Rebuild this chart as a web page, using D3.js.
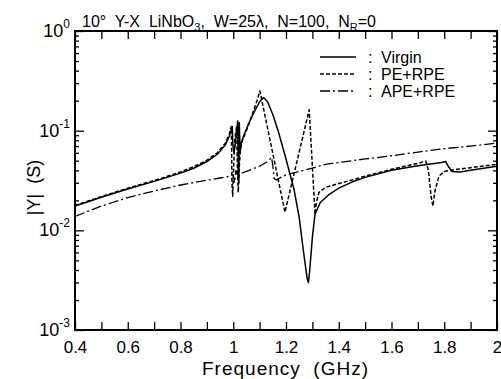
<!DOCTYPE html>
<html>
<head>
<meta charset="utf-8">
<script src="https://cdn.jsdelivr.net/npm/d3@7"></script>
<style>
  body { margin: 0; background: #fff; }
  svg { display: block; font-family: "Liberation Sans", Arial, sans-serif; }
  .line { fill: none; stroke: #000; stroke-linejoin: round; }
</style>
</head>
<body>
<svg id="chart" width="501" height="379"></svg>
<script>
'use strict';

// [frequency GHz, |Y| S]
var virgin = [
  [0.40, 0.0175], [0.50, 0.0215], [0.60, 0.026], [0.70, 0.031], [0.80, 0.0375],
  [0.85, 0.042], [0.90, 0.049], [0.94, 0.058], [0.97, 0.072], [0.985, 0.088],
  [0.992, 0.10], [0.996, 0.11], [0.999, 0.07], [1.003, 0.06], [1.008, 0.075],
  [1.013, 0.10], [1.017, 0.125], [1.019, 0.04], [1.021, 0.03], [1.023, 0.12],
  [1.026, 0.06], [1.030, 0.075], [1.04, 0.09], [1.06, 0.12], [1.08, 0.155],
  [1.10, 0.195], [1.115, 0.215], [1.13, 0.195], [1.15, 0.145], [1.17, 0.10],
  [1.20, 0.052], [1.23, 0.026], [1.25, 0.0135], [1.265, 0.0065], [1.28, 0.0033],
  [1.285, 0.003], [1.29, 0.004], [1.30, 0.0085], [1.31, 0.0145], [1.33, 0.019],
  [1.36, 0.0225], [1.40, 0.0265], [1.45, 0.0305], [1.50, 0.034], [1.60, 0.040],
  [1.70, 0.0445], [1.79, 0.048], [1.805, 0.049], [1.815, 0.044], [1.83, 0.039],
  [1.86, 0.0385], [1.90, 0.040], [1.95, 0.042], [2.00, 0.044]
];

var peRpe = [
  [0.40, 0.0178], [0.50, 0.0218], [0.60, 0.0265], [0.70, 0.0316], [0.80, 0.0385],
  [0.85, 0.0435], [0.90, 0.0505], [0.94, 0.060], [0.97, 0.075], [0.985, 0.092],
  [0.990, 0.105], [0.993, 0.11], [0.995, 0.03], [0.998, 0.022], [1.001, 0.04],
  [1.006, 0.08], [1.010, 0.10], [1.013, 0.11], [1.016, 0.04], [1.019, 0.024],
  [1.022, 0.04], [1.027, 0.065], [1.035, 0.08], [1.05, 0.10], [1.07, 0.14],
  [1.09, 0.20], [1.101, 0.25], [1.196, 0.0152], [1.288, 0.162], [1.31, 0.0145],
  [1.315, 0.019], [1.325, 0.024], [1.35, 0.027], [1.40, 0.0295], [1.45, 0.032],
  [1.50, 0.035], [1.60, 0.041], [1.70, 0.047], [1.73, 0.0495], [1.74, 0.04],
  [1.75, 0.022], [1.757, 0.0175], [1.765, 0.025], [1.78, 0.035], [1.80, 0.039],
  [1.85, 0.041], [1.90, 0.0425], [2.00, 0.046]
];

var apeRpe = [
  [0.40, 0.0138], [0.50, 0.0175], [0.60, 0.0213], [0.70, 0.0248], [0.80, 0.0285],
  [0.90, 0.0318], [0.95, 0.0335], [0.99, 0.035], [1.00, 0.036], [1.005, 0.03],
  [1.01, 0.04], [1.02, 0.034], [1.025, 0.037], [1.05, 0.039], [1.10, 0.044],
  [1.13, 0.049], [1.145, 0.054], [1.15, 0.045], [1.155, 0.033], [1.165, 0.032],
  [1.18, 0.034], [1.20, 0.036], [1.25, 0.039], [1.30, 0.042], [1.35, 0.046],
  [1.40, 0.048], [1.50, 0.052], [1.60, 0.056], [1.70, 0.061], [1.80, 0.066],
  [1.90, 0.070], [2.00, 0.075]
];

var seriesNames = ['Virgin', 'PE+RPE', 'APE+RPE'];
var xTickValues = [0.4, 0.5, 0.6, 0.7, 0.8, 0.9, 1.0, 1.1, 1.2, 1.3, 1.4, 1.5, 1.6, 1.7, 1.8, 1.9, 2.0];
var xTickLabels = ['0.4', '', '0.6', '', '0.8', '', '1', '', '1.2', '', '1.4', '', '1.6', '', '1.8', '', '2'];
var yMajorTicks = [1e-3, 1e-2, 1e-1, 1];
var yTickExponents = ['-3', '-2', '-1', '0'];

var margin = { top: 31, right: 4, bottom: 49, left: 75 };
var width = 501 - margin.left - margin.right;
var height = 379 - margin.top - margin.bottom;

var dashes = ['none', '4,2', '10,3,2,3'];

var svg = d3.select('#chart');

var x = d3.scaleLinear().domain([0.4, 2.0]).range([0, width]);
var y = d3.scaleLog().domain([1e-3, 1]).range([height, 0]);

var yMinor = [];
yMajorTicks.slice(0, 3).forEach(function (d) {
  for (var k = 2; k <= 9; k++) yMinor.push(d * k);
});

var chart = svg.append('g')
    .attr('transform', 'translate(' + margin.left + ',' + margin.top + ')');

chart.append('clipPath').attr('id', 'clip')
  .append('rect').attr('width', width).attr('height', height);

// Axes (ticks inward)
function styleAxis(g) {
  g.select('.domain').remove();
  g.selectAll('line').attr('stroke', '#000').attr('stroke-width', 1.3);
  g.selectAll('text').attr('fill', '#000');
}

chart.append('g')
    .attr('transform', 'translate(0,' + height + ')')
    .call(d3.axisBottom(x).tickValues(xTickValues).tickSize(-8).tickPadding(11)
      .tickFormat(function (d, i) { return xTickLabels[i]; }))
    .call(styleAxis)
    .selectAll('text').style('font-size', '17px').style('font-family', 'Liberation Sans, Arial, sans-serif');

chart.append('g')
    .call(d3.axisTop(x).tickValues(xTickValues).tickSize(-8).tickFormat(''))
    .call(styleAxis);

[0, width].forEach(function (xpos, side) {
  var maker = side === 0 ? d3.axisLeft : d3.axisRight;
  chart.append('g')
      .attr('transform', 'translate(' + xpos + ',0)')
      .call(maker(y).tickValues(yMajorTicks).tickSize(-9).tickFormat(''))
      .call(styleAxis);
  chart.append('g')
      .attr('transform', 'translate(' + xpos + ',0)')
      .call(maker(y).tickValues(yMinor).tickSize(-4).tickFormat(''))
      .call(styleAxis);
});

// y tick labels 10^n
var yLab = chart.append('g').selectAll('text')
    .data(yMajorTicks)
  .enter().append('text')
    .attr('x', -5)
    .attr('y', function (d) { return y(d) + 6; })
    .attr('text-anchor', 'end')
    .style('font-size', '18px');
yLab.append('tspan').text('10');
yLab.append('tspan')
    .attr('dy', -9)
    .style('font-size', '12px')
    .text(function (d, i) { return yTickExponents[i]; });

// frame
chart.append('rect')
    .attr('width', width).attr('height', height)
    .attr('fill', 'none').attr('stroke', '#000').attr('stroke-width', 2);

// lines
var line = d3.line()
    .x(function (d) { return x(d[0]); })
    .y(function (d) { return y(d[1]); });

var plot = chart.append('g').attr('clip-path', 'url(#clip)');
[virgin, peRpe, apeRpe].forEach(function (data, i) {
  plot.append('path')
      .datum(data)
      .attr('class', 'line')
      .attr('stroke-width', i === 2 ? 1.3 : 1.5)
      .attr('stroke-dasharray', dashes[i])
      .attr('d', line);
});

// legend
var legend = chart.append('g').attr('transform', 'translate(245,26)');
seriesNames.forEach(function (name, i) {
  var row = legend.append('g').attr('transform', 'translate(0,' + (i * 17) + ')');
  row.append('line')
      .attr('x1', 0).attr('x2', 36)
      .attr('stroke', '#000').attr('stroke-width', 1.5)
      .attr('stroke-dasharray', dashes[i]);
  row.append('text')
      .attr('x', 48).attr('y', 6)
      .style('font-size', '16px')
      .text(':');
  row.append('text')
      .attr('x', 61).attr('y', 6)
      .style('font-size', '16px')
      .text(name);
});

// axis titles
svg.append('text')
    .attr('x', 202)
    .attr('y', 375)
    .attr('textLength', 166)
    .attr('lengthAdjust', 'spacing')
    .style('font-size', '19px')
    .style('white-space', 'pre')
    .text('Frequency  (GHz)');

svg.append('text')
    .attr('transform', 'translate(40,' + (margin.top + height / 2 + 7) + ') rotate(-90)')
    .attr('text-anchor', 'middle')
    .style('font-size', '18px')
    .style('white-space', 'pre')
    .text('|Y|  (S)');

// title
var title = svg.append('text')
    .attr('x', 82).attr('y', 27)
    .style('font-size', '16px')
    .style('white-space', 'pre');
title.append('tspan').text('10°  Y-X  LiNbO');
title.append('tspan').attr('dy', 4).style('font-size', '11px').text('3');
title.append('tspan').attr('dy', -4).text(',  W=25λ,  N=100,  N');
title.append('tspan').attr('dy', 4).style('font-size', '11px').text('R');
title.append('tspan').attr('dy', -4).text('=0');
</script>
</body>
</html>
